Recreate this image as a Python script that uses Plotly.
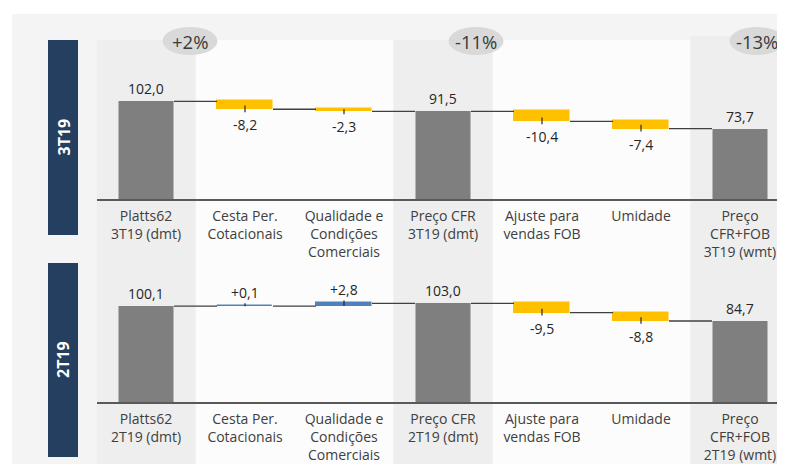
import plotly.graph_objects as go

# chart data
labels_3t = ["Platts62<br>3T19 (dmt)", "Cesta Per.<br>Cotacionais", "Qualidade e<br>Condições<br>Comerciais",
             "Preço CFR<br>3T19 (dmt)", "Ajuste para<br>vendas FOB", "Umidade", "Preço<br>CFR+FOB<br>3T19 (wmt)"]
labels_2t = ["Platts62<br>2T19 (dmt)", "Cesta Per.<br>Cotacionais", "Qualidade e<br>Condições<br>Comerciais",
             "Preço CFR<br>2T19 (dmt)", "Ajuste para<br>vendas FOB", "Umidade", "Preço<br>CFR+FOB<br>2T19 (wmt)"]
values_3t = [102.0, -8.2, -2.3, 91.5, -10.4, -7.4, 73.7]
values_2t = [100.1, 0.1, 2.8, 103.0, -9.5, -8.8, 84.7]
is_total = [True, False, False, True, False, False, True]
periods = ["3T19", "2T19"]
changes = ["+2%", "-11%", "-13%"]

# page body has an 8px margin, so the figure is a bit smaller than the window
OFF = 8
W, H = 785 - OFF, 466 - OFF
GRAY, YELLOW, BLUE, NAVY = "#7f7f7f", "#ffc000", "#4f81bd", "#243f60"
FONT = "Open Sans"


def px(x):
    return (x - OFF) / W


def py(y):
    return 1 - (y - OFF) / H


def fmt(v, signed):
    s = f"{abs(v):.1f}".replace(".", ",")
    if signed:
        return ("+" if v >= 0 else "-") + s
    return s


fig = go.Figure()

# panel layout in window pixels: (baseline, top)
panels = [(199.3, 40), (402.3, 263)]
scale = 0.96  # pixels per unit
x_left = 96.5
x_range = [-0.5, -0.5 + (785 - x_left) / 99]

annotations = []
shapes = []

# background
shapes.append(dict(type="rect", xref="paper", yref="paper", x0=px(12), x1=1, y0=py(464), y1=py(14),
                   fillcolor="#f4f4f4", line_width=0, layer="below"))
for a, b in [(0.5, 2.5), (3.5, 5.5)]:
    shapes.append(dict(type="rect", xref="x", yref="paper", x0=a, x1=b, y0=py(464), y1=py(40),
                       fillcolor="#fcfcfc", line_width=0, layer="below"))
for c, top in [(0, 40), (3, 40), (6, 36)]:
    shapes.append(dict(type="rect", xref="x", yref="paper", x0=c - 0.5, x1=c + 0.5, y0=py(464), y1=py(top),
                       fillcolor="#eeeeee", line_width=0, layer="below"))

for k, (vals, labels) in enumerate([(values_3t, labels_3t), (values_2t, labels_2t)]):
    xa = "x" if k == 0 else "x2"
    ya = "y" if k == 0 else "y2"
    base, height, colors = [], [], []
    level = 0
    levels = []
    for v, t in zip(vals, is_total):
        if t:
            base.append(0)
            height.append(v)
            colors.append(GRAY)
            level = v
        else:
            base.append(level)
            height.append(v)
            colors.append(YELLOW if v < 0 else BLUE)
            level = level + v
        levels.append(level)
    xs = list(range(len(vals)))
    fig.add_trace(go.Bar(x=xs, y=height, base=base, width=0.565, xaxis=xa, yaxis=ya,
                         marker=dict(color=colors, line=dict(color=colors, width=[0 if t else 1.5 for t in is_total])),
                         showlegend=False, hoverinfo="skip"))

    # connectors
    cx, cy = [], []
    for i in range(len(vals) - 1):
        cx += [i + 0.2825, i + 1 - 0.2825, None]
        cy += [levels[i], levels[i], None]
    fig.add_trace(go.Scatter(x=cx, y=cy, mode="lines", line=dict(color="#404040", width=1.3),
                             xaxis=xa, yaxis=ya, showlegend=False, hoverinfo="skip"))

    # little ticks on delta bars
    tx, ty = [], []
    for i, (v, t) in enumerate(zip(vals, is_total)):
        if t:
            continue
        end = base[i] + v
        d = 1 if v >= 0 else -1
        tx += [i, i, None]
        ty += [end + 3 * d, end - d * min(4, abs(v)), None]
    fig.add_trace(go.Scatter(x=tx, y=ty, mode="lines", line=dict(color="#262626", width=1.2),
                             xaxis=xa, yaxis=ya, showlegend=False, hoverinfo="skip"))

    # value labels
    for i, (v, t) in enumerate(zip(vals, is_total)):
        end = base[i] + v
        lab = dict(x=i, y=end, xref=xa, yref=ya, showarrow=False, xanchor="center",
                   font=dict(size=14, color="#262626", family=FONT))
        if t:
            lab.update(text=fmt(v, False), yanchor="bottom", yshift=1)
        elif v < 0:
            lab.update(text=fmt(v, True), yanchor="top", yshift=-4)
        else:
            lab.update(text=fmt(v, True), yanchor="bottom", yshift=2)
        annotations.append(lab)

    baseline, top = panels[k]
    axis_x = dict(domain=[px(x_left), 1], range=x_range, tickvals=xs, ticktext=labels, showline=True,
                  linecolor="#595959", linewidth=1.5, showgrid=False, zeroline=False, ticks="",
                  ticklabelstandoff=3,
                  tickfont=dict(size=14, color="#404040", family=FONT), anchor=ya, fixedrange=True)
    axis_y = dict(domain=[py(baseline), py(top)], range=[0, (baseline - top) / scale], visible=False,
                  anchor=xa, fixedrange=True)
    if k == 0:
        fig.update_layout(xaxis=axis_x, yaxis=axis_y)
    else:
        fig.update_layout(xaxis2=axis_x, yaxis2=axis_y)

# period boxes
for (y0, y1), period in zip([(40, 235), (263, 457)], periods):
    shapes.append(dict(type="rect", xref="paper", yref="paper", x0=px(48), x1=px(78), y0=py(y1), y1=py(y0),
                       fillcolor=NAVY, line_width=0))
    annotations.append(dict(x=px(63), y=py((y0 + y1) / 2), xref="paper", yref="paper", text=f"<b>{period}</b>",
                            textangle=-90, showarrow=False, xanchor="center", yanchor="middle",
                            font=dict(size=16, color="white", family=FONT)))

# change bubbles
for (bx, by), txt in zip([(190, 41), (476, 41), (757, 41)], changes):
    shapes.append(dict(type="circle", xref="paper", yref="paper", x0=px(bx - 27.5), x1=px(bx + 27.5),
                       y0=py(by + 14), y1=py(by - 14), fillcolor="#d9d9d9", line_width=0))
    annotations.append(dict(x=px(bx), y=py(by), xref="paper", yref="paper", text=txt, showarrow=False,
                            xanchor="center", yanchor="middle",
                            font=dict(size=18.5, color="#3a3a3a", family=FONT)))

fig.update_layout(
    width=W, height=H,
    margin=dict(l=0, r=0, t=0, b=0),
    paper_bgcolor="white",
    plot_bgcolor="rgba(0,0,0,0)",
    shapes=shapes,
    annotations=annotations,
    bargap=0,
    showlegend=False,
)

fig.write_html("out.html")
